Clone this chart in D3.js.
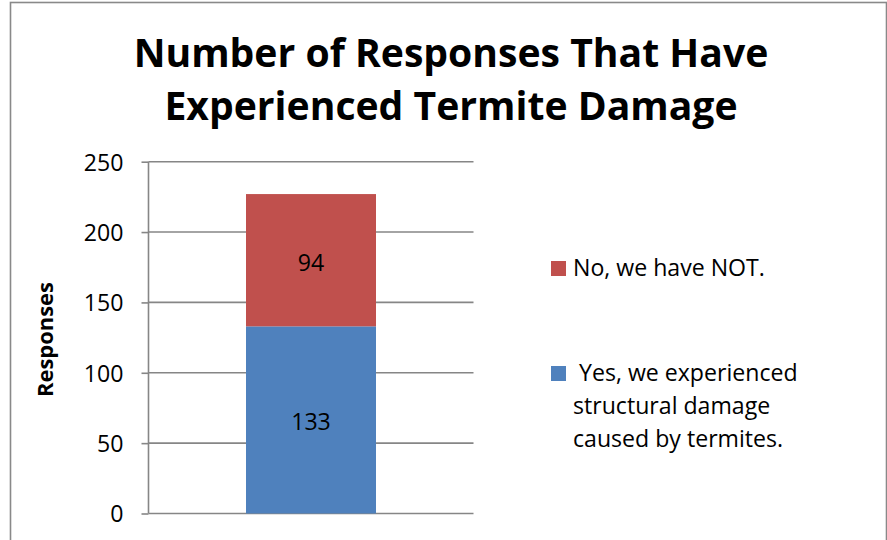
<!DOCTYPE html>
<html>
<head>
<meta charset="utf-8">
<script src="https://cdn.jsdelivr.net/npm/d3@7"></script>
<style>
  html, body { margin: 0; padding: 0; background: #ffffff; }
  svg { display: block; }
  text { font-family: "Open Sans", Lato, "Liberation Sans", sans-serif; fill: #000; }
</style>
</head>
<body>
<svg id="chart" width="887" height="540"></svg>
<script>
// ---- data ----
const categories = ["Responses"];
const seriesNames = ["Yes, we experienced structural damage caused by termites.", "No, we have NOT."];
const yesValues = [133];
const noValues = [94];
const yTicks = [0, 50, 100, 150, 200, 250];
const titleLines = ["Number of Responses That Have", "Experienced Termite Damage"];
const yAxisTitle = "Responses";
const legendLines = {
  no: ["No, we have NOT."],
  yes: ["\u00A0Yes, we experienced", "structural damage", "caused by termites."]
};
const colors = { yes: "#4F81BD", no: "#C0504D" };

// ---- layout ----
const plot = { left: 148.5, right: 473.5, top: 161.7, bottom: 513.5 };
const svg = d3.select("#chart");

// size a font so a string fills a given width
function fitSize(str, weight, target) {
  const t = svg.append("text").attr("font-size", 100).attr("font-weight", weight).text(str);
  const w = t.node().getComputedTextLength();
  t.remove();
  return 100 * target / w;
}
const titleSize = fitSize(titleLines[0], "bold", 635);
const bodySize = fitSize("No, we have NOT.", "normal", 192);
const axisTitleSize = fitSize(yAxisTitle, "bold", 115);

// chart border
svg.append("rect")
  .attr("x", 10.5).attr("y", 2.5)
  .attr("width", 876).attr("height", 600)
  .attr("fill", "#fff").attr("stroke", "#898989").attr("stroke-width", 1.6);

const x = d3.scaleBand().domain(categories).range([plot.left, plot.right])
  .paddingInner(0).paddingOuter(0.75);
const y = d3.scaleLinear().domain([0, 250]).range([plot.bottom, plot.top]);

// gridlines + tick marks
const yAxis = d3.axisLeft(y).tickValues(yTicks).tickSize(7).tickPadding(18).tickFormat(d3.format("d"));
const gAxis = svg.append("g").attr("transform", `translate(${plot.left},0)`).call(yAxis);
gAxis.select(".domain").attr("stroke", "#868686").attr("stroke-width", 1.6)
  .attr("d", `M0,${y(0)}V${y(250)}`);
gAxis.selectAll(".tick line").attr("stroke", "#868686").attr("stroke-width", 1.6);
gAxis.selectAll(".tick text").attr("font-size", bodySize).attr("font-family", "'Open Sans', Lato, sans-serif")
  .attr("fill", "#000").attr("dy", "0.36em");

svg.append("g").selectAll("line").data(yTicks).join("line")
  .attr("x1", plot.left).attr("x2", plot.right)
  .attr("y1", d => y(d)).attr("y2", d => y(d))
  .attr("stroke", "#868686").attr("stroke-width", 1.6);

// stacked bars
const rows = categories.map((c, i) => ({ cat: c, yes: yesValues[i], no: noValues[i] }));
const stack = d3.stack().keys(["yes", "no"])(rows);
const gBars = svg.append("g");
stack.forEach(layer => {
  gBars.selectAll(null).data(layer).join("rect")
    .attr("x", d => x(d.data.cat))
    .attr("width", x.bandwidth())
    .attr("y", d => y(d[1]))
    .attr("height", d => y(d[0]) - y(d[1]))
    .attr("fill", colors[layer.key]);
  gBars.selectAll(null).data(layer).join("text")
    .attr("x", d => x(d.data.cat) + x.bandwidth() / 2)
    .attr("y", d => (y(d[0]) + y(d[1])) / 2 + 2)
    .attr("dy", "0.36em")
    .attr("text-anchor", "middle")
    .attr("font-size", bodySize)
    .text(d => d.data[layer.key]);
});

// y-axis title
svg.append("text")
  .attr("transform", `translate(53,339.5) rotate(-90)`)
  .attr("text-anchor", "middle")
  .attr("font-weight", "bold")
  .attr("font-size", axisTitleSize)
  .text(yAxisTitle);

// title
svg.append("g").selectAll("text").data(titleLines).join("text")
  .attr("x", 451)
  .attr("y", (d, i) => 67 + i * 53)
  .attr("text-anchor", "middle")
  .attr("font-weight", "bold")
  .attr("font-size", titleSize)
  .text(d => d);

// legend
const legend = svg.append("g");
const legendItems = [
  { key: "no", sqY: 261, lines: legendLines.no, baseY: 276 },
  { key: "yes", sqY: 366, lines: legendLines.yes, baseY: 381 }
];
legendItems.forEach(item => {
  legend.append("rect").attr("x", 551).attr("y", item.sqY)
    .attr("width", 15).attr("height", 15).attr("fill", colors[item.key]);
  legend.selectAll(null).data(item.lines).join("text")
    .attr("x", 573)
    .attr("y", (d, i) => item.baseY + i * 33)
    .attr("font-size", bodySize)
    .style("white-space", "pre")
    .text(d => d);
});
</script>
</body>
</html>
